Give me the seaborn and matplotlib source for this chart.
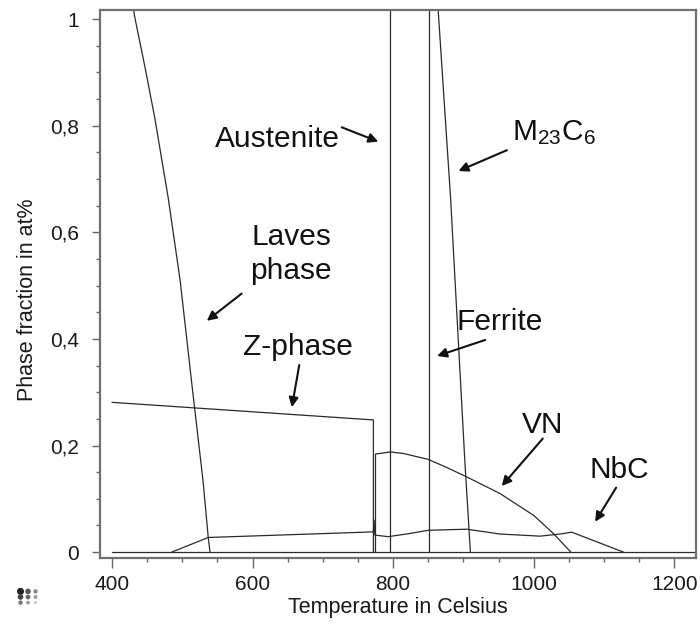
import matplotlib
matplotlib.use("Agg")
import matplotlib.pyplot as plt
import seaborn as sns
from matplotlib.ticker import FixedLocator, FixedFormatter, MultipleLocator

sns.set_theme(style="white")
plt.rcParams['font.family'] = ['Liberation Sans', 'DejaVu Sans']
plt.rcParams['mathtext.fontset'] = 'custom'
plt.rcParams['mathtext.rm'] = 'Liberation Sans'
plt.rcParams['mathtext.it'] = 'Liberation Sans'

# ---------------- data ----------------
baseline_T = [400, 1230]
baseline_f = [0.0, 0.0]

laves_T = [429, 433, 447, 461, 480, 497, 515, 529.5, 537, 539.5]
laves_f = [1.03, 1.0, 0.91, 0.814, 0.665, 0.51, 0.30, 0.135, 0.0275, 0.0]

zphase_T = [400, 772, 772]
zphase_f = [0.281, 0.248, 0.0]

vn_T = [775, 775, 796, 815, 850, 876, 905, 952, 1000, 1028, 1053]
vn_f = [0.0, 0.184, 0.188, 0.185, 0.174, 0.159, 0.141, 0.110, 0.069, 0.035, 0.0]

nbc_T = [485, 537, 772, 773, 774, 793, 824, 850, 905, 952, 1009, 1038, 1054, 1128]
nbc_f = [0.0, 0.0275, 0.038, 0.06, 0.032, 0.029, 0.035, 0.041, 0.043, 0.034, 0.030, 0.034, 0.0375, 0.0]

austenite_T = [796, 796]
austenite_f = [0.0, 1.05]

ferrite_T = [851, 851]
ferrite_f = [0.0, 1.05]

m23c6_T = [862.5, 882, 902, 910]
m23c6_f = [1.05, 0.66, 0.173, 0.0]

x_ticks = [400, 600, 800, 1000, 1200]
x_ticklabels = ["400", "600", "800", "1000", "1200"]
y_ticks = [0, 0.2, 0.4, 0.6, 0.8, 1.0]
y_ticklabels = ["0", "0,2", "0,4", "0,6", "0,8", "1"]

logo_x = [0, 1, 2, 0, 1, 2, 0, 1, 2]
logo_y = [2, 2, 2, 1, 1, 1, 0, 0, 0]
logo_s = [26, 16, 10, 16, 12, 8, 10, 7, 4]
logo_c = ['#222222', '#555555', '#888888', '#444444', '#666666', '#999999',
          '#777777', '#999999', '#bbbbbb']

# ---------------- figure ----------------
W, H = 700, 624
fig = plt.figure(figsize=(W / 100, H / 100), dpi=100)
fig.patch.set_facecolor('white')
ax = fig.add_axes([100 / W, 1 - 558 / H, 596 / W, 548 / H])

series = [
    (baseline_T, baseline_f),
    (laves_T, laves_f),
    (zphase_T, zphase_f),
    (vn_T, vn_f),
    (nbc_T, nbc_f),
    (austenite_T, austenite_f),
    (ferrite_T, ferrite_f),
    (m23c6_T, m23c6_f),
]
line_color = '#2a2a2a'
for T, f in series:
    sns.lineplot(x=T, y=f, ax=ax, color=line_color, linewidth=0.9,
                 estimator=None, sort=False, legend=False)

ax.set_xlim(383, 1231)
ax.set_ylim(-0.011, 1.017)

ax.xaxis.set_major_locator(FixedLocator(x_ticks))
ax.xaxis.set_major_formatter(FixedFormatter(x_ticklabels))
ax.yaxis.set_major_locator(FixedLocator(y_ticks))
ax.yaxis.set_major_formatter(FixedFormatter(y_ticklabels))
ax.xaxis.set_minor_locator(MultipleLocator(50))
ax.yaxis.set_minor_locator(MultipleLocator(0.05))

tick_col = '#666666'
ax.tick_params(axis='both', which='both', bottom=True, left=True, top=False,
               right=False, direction='out', color=tick_col, width=1.0)
ax.tick_params(axis='x', which='major', length=7, pad=5, labelsize=15,
               labelcolor='#1a1a1a')
ax.tick_params(axis='y', which='major', length=6, pad=9, labelsize=15,
               labelcolor='#1a1a1a')
ax.tick_params(axis='both', which='minor', length=3)

for sp in ax.spines.values():
    sp.set_visible(True)
    sp.set_color('#707070')
    sp.set_linewidth(1.6)

ax.set_xlabel("Temperature in Celsius", fontsize=15.5, color='#1a1a1a')
ax.set_ylabel("Phase fraction in at%", fontsize=15.5, color='#1a1a1a')
ax.xaxis.label.set_va('center')
ax.yaxis.label.set_va('center')
ax.xaxis.set_label_coords(0.5, (558 - 608) / 548)
ax.yaxis.set_label_coords((28 - 100) / 596, (558 - 300) / 548)

# ---------------- annotations ----------------
txt_kw = dict(fontsize=21.5, color='#111111')
arrow_kw = dict(arrowstyle='-|>', color='#111111', lw=1.5,
                mutation_scale=14, shrinkA=0, shrinkB=0)

ax.text(634.9, 0.775, "Austenite", ha='center', va='center', **txt_kw)
ax.annotate("", xy=(779, 0.770), xytext=(727, 0.797), arrowprops=arrow_kw)

ax.text(969, 0.773, r"M$_{23}$C$_{6}$", ha='left', va='baseline', **txt_kw)
ax.annotate("", xy=(893, 0.715), xytext=(962, 0.754), arrowprops=arrow_kw)

ax.text(655, 0.576, "Laves", ha='center', va='baseline', **txt_kw)
ax.text(655, 0.512, "phase", ha='center', va='baseline', **txt_kw)
ax.annotate("", xy=(535, 0.434), xytext=(584.5, 0.485), arrowprops=arrow_kw)

ax.text(664, 0.370, "Z-phase", ha='center', va='baseline', **txt_kw)
ax.annotate("", xy=(656, 0.272), xytext=(666.5, 0.351), arrowprops=arrow_kw)

ax.text(951, 0.4315, "Ferrite", ha='center', va='center', **txt_kw)
ax.annotate("", xy=(862.6, 0.368), xytext=(931, 0.398), arrowprops=arrow_kw)

ax.text(1012, 0.223, "VN", ha='center', va='baseline', **txt_kw)
ax.annotate("", xy=(954.6, 0.124), xytext=(1013, 0.213), arrowprops=arrow_kw)

ax.text(1122, 0.140, "NbC", ha='center', va='baseline', **txt_kw)
ax.annotate("", xy=(1087.5, 0.057), xytext=(1117.4, 0.121), arrowprops=arrow_kw)

# ---------------- small logo (bottom-left) ----------------
lax = fig.add_axes([16 / W, 1 - 606 / H, 24 / W, 18 / H])
lax.scatter(logo_x, logo_y, s=logo_s, c=logo_c, linewidths=0)
lax.set_xlim(-0.6, 2.6)
lax.set_ylim(-0.6, 2.6)
lax.axis('off')

fig.savefig("out.png", dpi=100, facecolor='white')
